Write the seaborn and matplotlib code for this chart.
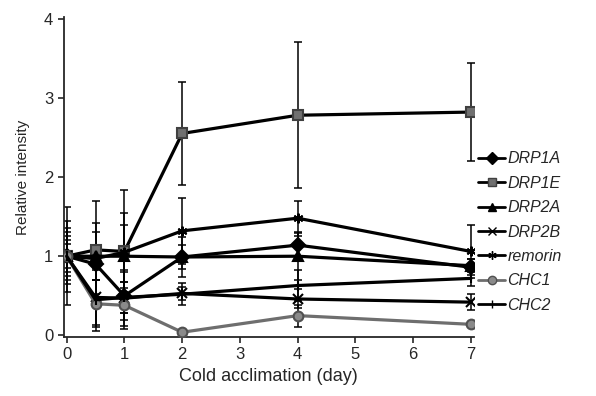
"""Relative intensity of DRP/CHC/remorin during cold acclimation."""
import numpy as np
import pandas as pd
import matplotlib.pyplot as plt
import seaborn as sns

# Data
days = [0, 0.5, 1, 2, 4, 7]
genes = ['DRP1A', 'DRP1E', 'DRP2A', 'DRP2B', 'remorin', 'CHC1', 'CHC2']

drp1a = [1.0, 0.90, 0.50, 0.99, 1.14, 0.86]
drp1e = [1.0, 1.08, 1.06, 2.55, 2.78, 2.82]
drp2a = [1.0, 1.00, 1.00, 0.99, 1.00, 0.88]
drp2b = [1.0, 0.48, 0.47, 0.53, 0.46, 0.42]
remorin = [1.0, 0.97, 1.05, 1.32, 1.48, 1.06]
chc1 = [1.0, 0.40, 0.38, 0.04, 0.25, 0.14]
chc2 = [1.0, 0.45, 0.48, 0.52, 0.63, 0.72]

drp1a_err = [0.25, 0.20, 0.30, 0.15, 0.15, 0.10]
drp1e_err = [0.35, 0.62, 0.78, 0.65, 0.92, 0.62]
drp2a_err = [0.30, 0.30, 0.40, 0.25, 0.30, 0.08]
drp2b_err = [0.20, 0.35, 0.35, 0.08, 0.12, 0.10]
remorin_err = [0.45, 0.45, 0.50, 0.42, 0.22, 0.33]
chc1_err = [0.15, 0.30, 0.30, 0.03, 0.14, 0.03]
chc2_err = [0.62, 0.40, 0.20, 0.14, 0.20, 0.10]

values = [drp1a, drp1e, drp2a, drp2b, remorin, chc1, chc2]
errors = [drp1a_err, drp1e_err, drp2a_err, drp2b_err, remorin_err, chc1_err, chc2_err]

df = pd.DataFrame({
    'day': np.tile(days, len(genes)),
    'value': np.concatenate(values),
    'err': np.concatenate(errors),
    'gene': np.repeat(genes, len(days)),
})

# styles
markers = {'DRP1A': 'D', 'DRP1E': 's', 'DRP2A': '^', 'DRP2B': 'x',
           'remorin': (6, 2, 0), 'CHC1': 'o', 'CHC2': '|'}
line_col = {'DRP1A': 'black', 'DRP1E': 'black', 'DRP2A': 'black', 'DRP2B': 'black',
            'remorin': 'black', 'CHC1': '#6e6e6e', 'CHC2': 'black'}
face_col = {'DRP1A': 'black', 'DRP1E': '#707070', 'DRP2A': 'black', 'DRP2B': 'black',
            'remorin': 'black', 'CHC1': '#8a8a8a', 'CHC2': 'black'}
edge_col = {'DRP1A': 'black', 'DRP1E': '#404040', 'DRP2A': 'black', 'DRP2B': 'black',
            'remorin': 'black', 'CHC1': '#505050', 'CHC2': 'black'}

sns.set_style('ticks')
plt.rcParams['font.family'] = ['Liberation Sans', 'DejaVu Sans']

fig = plt.figure(figsize=(5.96, 3.96), dpi=100)
ax = fig.add_axes([0.107, 0.149, 0.688, 0.808])

# error bars first
for g in genes:
    sub = df[df.gene == g]
    ax.errorbar(sub.day, sub.value, yerr=sub.err, fmt='none', ecolor='black',
                elinewidth=1.1, capsize=3, capthick=1.1, zorder=1)

for g in genes:
    sub = df[df.gene == g]
    sns.lineplot(data=sub, x='day', y='value', color=line_col[g],
                 marker=markers[g], markersize=7, markeredgewidth=1.5,
                 markerfacecolor=face_col[g], markeredgecolor=edge_col[g],
                 linewidth=2.3, ax=ax, zorder=3)

ax.set_xlim(-0.05, 7.05)
ax.set_ylim(-0.02, 4.02)
ax.set_xticks(range(8))
ax.set_yticks(range(5))
ax.tick_params(labelsize=12, width=1.2, length=4)
ax.set_xlabel('Cold acclimation (day)', fontsize=13)
ax.set_ylabel('Relative intensity', fontsize=11, labelpad=10)
for s in ['left', 'bottom']:
    ax.spines[s].set_linewidth(1.3)
sns.despine(ax=ax)

# legend
handles = []
for g in genes:
    h, = ax.plot([], [], color=line_col[g], marker=markers[g], markersize=6,
                 markerfacecolor=face_col[g], markeredgecolor=edge_col[g], linewidth=2)
    handles.append(h)
fig.legend(handles, genes, loc='center left', bbox_to_anchor=(0.802, 0.414),
           frameon=False, borderpad=0, borderaxespad=0,
           handlelength=1.7, handletextpad=0.15, labelspacing=0.59,
           prop={'style': 'italic', 'size': 11.5})

fig.savefig('out.png', dpi=100)
